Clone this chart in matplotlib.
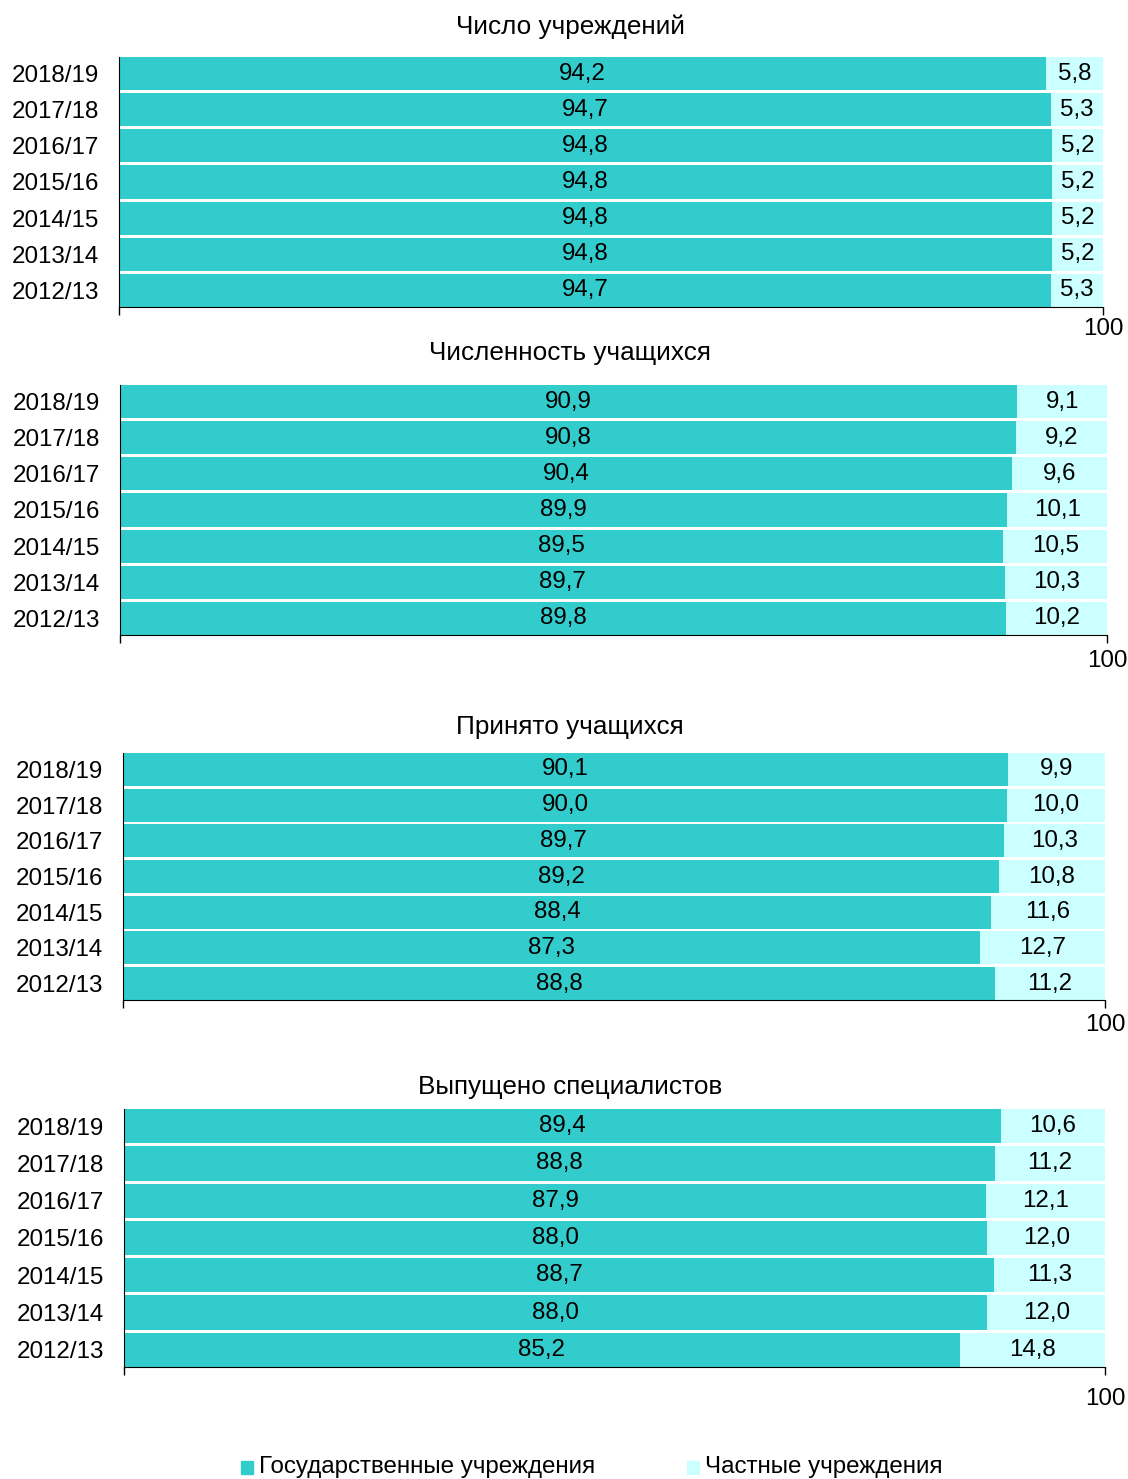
import matplotlib
matplotlib.use("Agg")
import matplotlib.pyplot as plt
from matplotlib.patches import Rectangle

plt.rcParams['font.family'] = ['Liberation Sans', 'DejaVu Sans']

years = ["2018/19", "2017/18", "2016/17", "2015/16", "2014/15", "2013/14", "2012/13"]

titles = ["Число учреждений", "Численность учащихся", "Принято учащихся", "Выпущено специалистов"]

gov_inst = [94.2, 94.7, 94.8, 94.8, 94.8, 94.8, 94.7]
priv_inst = [5.8, 5.3, 5.2, 5.2, 5.2, 5.2, 5.3]

gov_students = [90.9, 90.8, 90.4, 89.9, 89.5, 89.7, 89.8]
priv_students = [9.1, 9.2, 9.6, 10.1, 10.5, 10.3, 10.2]

gov_admitted = [90.1, 90.0, 89.7, 89.2, 88.4, 87.3, 88.8]
priv_admitted = [9.9, 10.0, 10.3, 10.8, 11.6, 12.7, 11.2]

gov_grads = [89.4, 88.8, 87.9, 88.0, 88.7, 88.0, 85.2]
priv_grads = [10.6, 11.2, 12.1, 12.0, 11.3, 12.0, 14.8]

legend_labels = ["Государственные учреждения", "Частные учреждения"]

GOV = "#33CCCC"
PRIV = "#CCFFFF"
W, H = 1128, 1479
FS = 17.4
TFS = 18.8

fig = plt.figure(figsize=(W / 100, H / 100), dpi=100)

# axes boxes in pixels: left, right, top, bottom
boxes = [(119, 1103, 57, 307), (120, 1107, 385, 635), (123, 1105, 753, 1000), (124, 1105, 1109, 1367)]
title_y = [27, 353, 727, 1087]
xpads = [2, 5, 4, 9]
data = [(gov_inst, priv_inst), (gov_students, priv_students),
        (gov_admitted, priv_admitted), (gov_grads, priv_grads)]

def fmt(v):
    return ("%.1f" % v).replace(".", ",")

for (l, r, t, b), ty, xp, title, (gov, priv) in zip(boxes, title_y, xpads, titles, data):
    ax = fig.add_axes([l / W, 1 - b / H, (r - l) / W, (b - t) / H])
    n = len(years)
    ypos = list(range(n))[::-1]
    ax.barh(ypos, gov, height=0.92, color=GOV, edgecolor="none")
    ax.barh(ypos, priv, left=gov, height=0.92, color=PRIV, edgecolor="none")
    for y, g, p in zip(ypos, gov, priv):
        ax.text(g / 2, y, fmt(g), ha="center", va="center", fontsize=FS)
        ax.text(g + p / 2, y, fmt(p), ha="center", va="center", fontsize=FS)
    ax.set_xlim(0, 100)
    ax.set_ylim(-0.46, n - 0.54)
    ax.set_yticks(ypos)
    ax.set_yticklabels(years, fontsize=FS)
    ax.tick_params(axis="y", length=0, pad=14.5)
    ax.set_xticks([0, 100])
    ax.set_xticklabels(["", "100"], fontsize=FS)
    ax.tick_params(axis="x", length=6, width=1, pad=xp)
    for s in ["top", "right"]:
        ax.spines[s].set_visible(False)
    ax.spines["left"].set_color("black")
    ax.spines["bottom"].set_color("black")
    fig.text(570 / W, 1 - ty / H, title, ha="center", va="center", fontsize=TFS)

# legend at the bottom
for x0, label, col in [(241, legend_labels[0], GOV), (687, legend_labels[1], PRIV)]:
    fig.patches.append(Rectangle((x0 / W, 1 - 1474 / H), 12 / W, 13 / H,
                                 transform=fig.transFigure, color=col))
    fig.text((x0 + 18) / W, 1 - 1473 / H, label, ha="left", va="baseline", fontsize=FS)

fig.savefig("out.png", dpi=100)
